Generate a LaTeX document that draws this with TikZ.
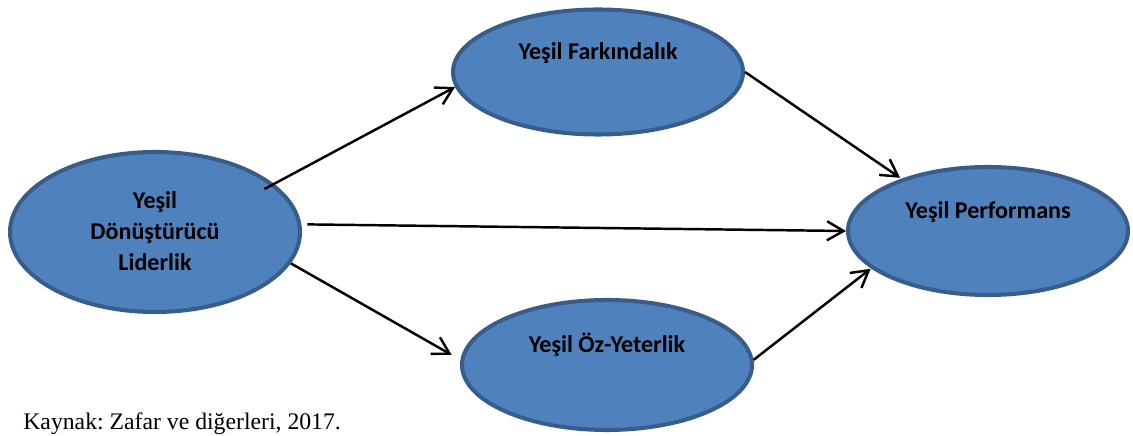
\documentclass[tikz,border=0pt]{standalone}
\usepackage{fontspec}
\setmainfont{Liberation Serif}
\newfontfamily\carlito{Carlito}
\usepackage{tikz}
\usetikzlibrary{shapes.geometric,arrows.meta}
\definecolor{ovalfill}{HTML}{4F81BD}
\definecolor{ovaledge}{HTML}{385D8A}

\begin{document}
\begin{tikzpicture}[
    oval/.style={ellipse, fill=ovalfill, draw=ovaledge, line width=2.3pt, inner sep=0pt},
    lbl/.style={font=\carlito\bfseries\fontsize{13.7}{17.6}\selectfont, align=center, inner sep=0pt},
    link/.style={black, line width=1.4pt, -{Straight Barb[length=3.3mm,width=3.8mm]}}]
  \useasboundingbox (0,0) rectangle (22.66,8.72);
   \node[oval, minimum width=5.80cm, minimum height=3.20cm] (lider) at (3.10,4.08) {};
   \node[oval, minimum width=5.80cm, minimum height=2.50cm] (fark) at (11.96,7.28) {};
   \node[oval, minimum width=5.80cm, minimum height=2.60cm] (oz) at (12.14,1.42) {};
   \node[oval, minimum width=5.60cm, minimum height=2.56cm] (perf) at (19.76,4.10) {};
    \node[lbl] (liderT) at (3.10,4.10) {Yeşil\\Dönüştürücü\\Liderlik};
    \node[lbl] (farkT) at (11.96,7.66) {Yeşil Farkındalık};
    \node[lbl] (ozT) at (12.14,1.82) {Yeşil Öz-Yeterlik};
    \node[lbl] (perfT) at (19.76,4.48) {Yeşil Performans};
  \draw[link, shorten <=-0.22cm] (lider.22.6) -- (fark.186.6);
  \draw[link, shorten <=0.12cm] (lider.3.4) -- (perf.180.4);
  \draw[link, shorten >=0.2cm] (lider.347.5) -- (oz.178.9);
  \draw[link] (fark.0.8) -- ([shift={(-0.02,0.02)}]perf.149.9);
  \draw[link] (oz.2.8) -- ([shift={(-0.02,0.0)}]perf.198.4);
  %\draw[link, shorten >=0.14cm] (fark.0.8) -- (perf.149.9);
   \node[anchor=base west, font=\fontsize{13.5}{16}\selectfont, inner sep=0pt] (kaynak) at (0.46,0.12) {\frenchspacing Kaynak: Zafar ve diğerleri, 2017.};
\end{tikzpicture}
\end{document}
